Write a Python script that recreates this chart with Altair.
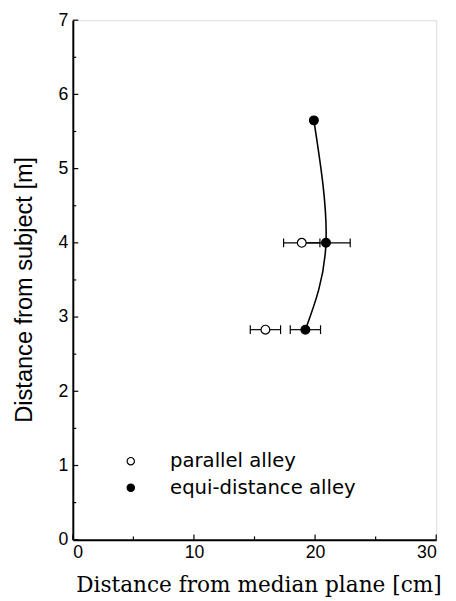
import altair as alt
import pandas as pd

# ---- data ----
series_names = ["parallel alley", "equi-distance alley"]

par_x = [18.9, 15.9]
par_y = [4.0, 2.83]
par_err = [1.5, 1.25]

eq_x = [19.9, 20.9, 19.2]
eq_y = [5.65, 4.0, 2.83]
eq_err = [None, 2.0, 1.25]

x_major = [0, 10, 20, 30]
x_minor = [5, 15, 25]
y_major = [0, 1, 2, 3, 4, 5, 6, 7]
y_minor = [0.5, 1.5, 2.5, 3.5, 4.5, 5.5, 6.5]

# ---- tables ----
pts = pd.DataFrame({
    "series": [series_names[0]] * len(par_x) + [series_names[1]] * len(eq_x),
    "x": par_x + eq_x,
    "y": par_y + eq_y,
    "err": par_err + eq_err,
})
eq_df = pd.DataFrame({"x": eq_x, "y": eq_y})
yM = pd.DataFrame({"v": y_major})
ym = pd.DataFrame({"v": y_minor})
xM = pd.DataFrame({"v": x_major})
xm = pd.DataFrame({"v": x_minor})

xs = alt.Scale(domain=[0, 30], nice=False, zero=False)
ys = alt.Scale(domain=[0, 7], nice=False, zero=False)

x_axis = alt.Axis(values=x_major, format="d", title="Distance from median plane [cm]",
                  titleFont="DejaVu Serif", titleFontSize=22, titleFontWeight="normal",
                  titleColor="black", titlePadding=14, titleX=189,
                  labelFont="Liberation Sans", labelFontSize=18, labelColor="black",
                  labelPadding=4, ticks=False, grid=False,
                  domainColor="black", domainWidth=2)
y_axis = alt.Axis(values=y_major, format="d", title="Distance from subject [m]",
                  titleFont="Liberation Sans", titleFontSize=24, titleFontWeight="normal",
                  titleColor="black", titleX=-37, titleY=274, titleAngle=270,
                  titleBaseline="bottom", titleAlign="center",
                  labelFont="Liberation Sans", labelFontSize=18, labelColor="black",
                  labelPadding=5, ticks=False, grid=False,
                  domainColor="black", domainWidth=2)

X = lambda f: alt.X(f, scale=xs, axis=x_axis)
Y = lambda f: alt.Y(f, scale=ys, axis=y_axis)

curve = alt.Chart(eq_df).mark_line(
    color="black", strokeWidth=1.6, interpolate="natural"
).encode(x=X("x:Q"), y=Y("y:Q"), order="y:Q")

bars = alt.Chart(pts).transform_filter("isValid(datum.err)").transform_calculate(
    lo="datum.x - datum.err", hi="datum.x + datum.err"
).mark_rule(color="black", strokeWidth=1.2).encode(
    x=X("lo:Q"), x2="hi:Q", y=Y("y:Q")
)

caps = alt.Chart(pts).transform_filter("isValid(datum.err)").transform_calculate(
    lo="datum.x - datum.err", hi="datum.x + datum.err"
).transform_fold(["lo", "hi"], as_=["side", "cx"]).mark_point(
    shape="M0,-1L0,1", size=81, stroke="black", strokeWidth=1.2, filled=False, opacity=1
).encode(x=X("cx:Q"), y=Y("y:Q"))

points = alt.Chart(pts).mark_point(
    filled=True, stroke="black", strokeWidth=1.2, size=80, opacity=1
).encode(
    x=X("x:Q"), y=Y("y:Q"),
    fill=alt.Fill("series:N",
                  scale=alt.Scale(domain=series_names, range=["white", "black"]),
                  legend=alt.Legend(orient="none", legendX=49, legendY=439, title=None,
                                    labelFont="DejaVu Sans", labelFontSize=20,
                                    labelColor="black", labelLimit=400,
                                    symbolType="circle",
                                    symbolSize=55, symbolStrokeColor="black",
                                    symbolStrokeWidth=1.2, labelOffset=30,
                                    rowPadding=7)),
)

ytM = alt.Chart(yM).mark_rule(color="black", strokeWidth=1.2).encode(
    y=Y("v:Q"), x=alt.datum(0, scale=xs), x2=alt.datum(0.45))
ytm = alt.Chart(ym).mark_rule(color="black", strokeWidth=1.2).encode(
    y=Y("v:Q"), x=alt.datum(0, scale=xs), x2=alt.datum(0.28))
xtM = alt.Chart(xM).mark_rule(color="black", strokeWidth=1.2).encode(
    x=X("v:Q"), y=alt.datum(0, scale=ys), y2=alt.datum(0.07))
xtm = alt.Chart(xm).mark_rule(color="black", strokeWidth=1.2).encode(
    x=X("v:Q"), y=alt.datum(0, scale=ys), y2=alt.datum(0.045))

chart = alt.layer(ytM, ytm, xtM, xtm, curve, bars, caps, points).properties(
    width=370, height=529,
    autosize=alt.AutoSizeParams(type="none"),
    padding={"left": 66, "top": 7, "right": 12, "bottom": 57},
).configure_view(stroke="black", strokeWidth=1.5).configure(background="white")

chart.save("out.html", embed_options={"renderer": "svg", "actions": False})
